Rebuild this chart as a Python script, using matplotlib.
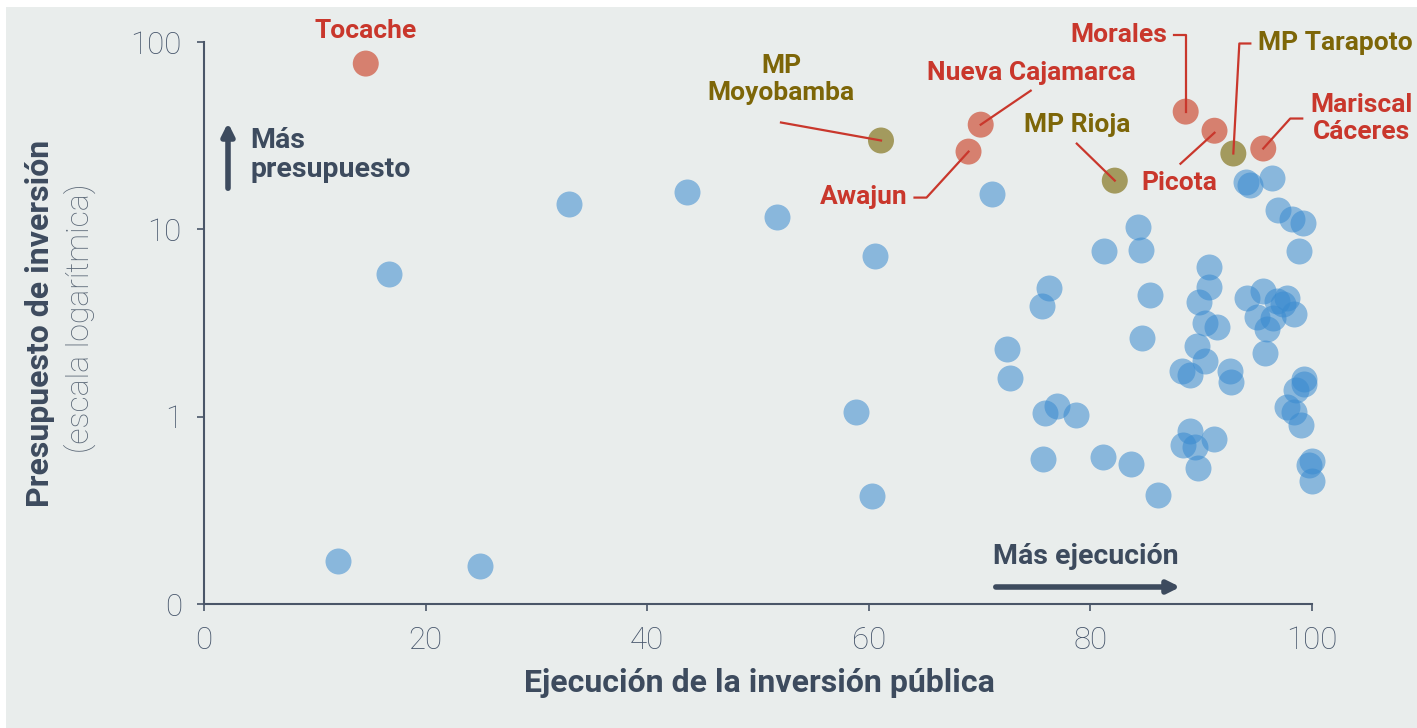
import numpy as np
import matplotlib
matplotlib.use("Agg")
import matplotlib.pyplot as plt
from matplotlib.lines import Line2D
from matplotlib.patches import Rectangle
from matplotlib.transforms import IdentityTransform

plt.rcParams["font.family"] = ["Roboto", "DejaVu Sans"]

# municipios resaltados
hl_names = ["Tocache", "MP\nMoyobamba", "Awajun", "Nueva Cajamarca", "MP Rioja",
            "Morales", "Picota", "MP Tarapoto", "Mariscal\nCáceres"]
hl_ejec = [14.6, 61.1, 69.0, 70.1, 82.2, 88.6, 91.2, 92.9, 95.6]
hl_presu = [76.7, 29.8, 26.0, 36.2, 18.2, 42.5, 33.6, 25.4, 27.0]
hl_group = ["dist", "prov", "dist", "dist", "prov", "dist", "dist", "prov", "dist"]

# resto de municipios
ejec = [16.7, 12.1, 24.9, 32.9, 43.6, 51.7, 60.6, 58.8, 60.3, 71.1,
        94.0, 94.4, 96.4, 96.9, 98.2, 99.2, 98.8, 84.3, 81.2, 84.6,
        90.7, 90.7, 89.8, 90.3, 91.4, 76.3, 75.6, 85.4, 94.1, 95.6,
        97.7, 96.8, 97.4, 98.4, 95.0, 96.5, 95.9, 95.8, 84.7, 72.5,
        72.7, 89.6, 90.3, 88.3, 89.0, 92.6, 92.7, 99.3, 99.3, 98.6,
        97.7, 98.4, 99.0, 75.9, 77.0, 78.7, 89.0, 88.4, 89.4, 91.2,
        89.7, 100.0, 99.7, 100.0, 75.7, 81.1, 83.7, 86.1]
presu = [5.80, 0.170, 0.160, 13.7, 15.9, 11.7, 7.24, 1.06, 0.379, 15.5,
         18.0, 17.3, 18.9, 12.7, 11.4, 10.8, 7.70, 10.3, 7.70, 7.79,
         6.33, 4.94, 4.11, 3.18, 3.02, 4.88, 3.92, 4.48, 4.32, 4.70,
         4.32, 4.16, 4.01, 3.55, 3.42, 3.38, 2.95, 2.20, 2.64, 2.31,
         1.60, 2.39, 1.99, 1.76, 1.66, 1.76, 1.54, 1.58, 1.50, 1.39,
         1.13, 1.06, 0.906, 1.04, 1.14, 1.02, 0.842, 0.709, 0.692, 0.763,
         0.534, 0.582, 0.554, 0.455, 0.597, 0.612, 0.561, 0.383]

x_ticks = [0, 20, 40, 60, 80, 100]
y_ticks = [0.1, 1, 10, 100]
y_ticklabels = ["0", "1", "10", "100"]

DARK = "#3d4b5e"
BG = "#e9edec"
dot_col = {"dist": "#d6806f", "prov": "#a39a5e"}
txt_col = {"dist": "#c9372c", "prov": "#7d6608"}

# offsets in pixels (x right, y up): text position and leader line path
label_pos = {
    "Tocache": ((0, 33), "center", None),
    "MP\nMoyobamba": ((-100, 61), "center", [(0, 0), (-100, 18)]),
    "Awajun": ((-61, -45), "right", [(0, 0), (-42, -46), (-54, -46)]),
    "Nueva Cajamarca": ((51, 52), "center", [(0, 0), (50, 34)]),
    "MP Rioja": ((-38, 56), "center", [(0, 0), (-38, 37)]),
    "Morales": ((-18, 77), "right", [(0, 0), (0, 77), (-12, 77)]),
    "Picota": ((-35, -52), "center", [(0, -2), (-34, -33)]),
    "MP Tarapoto": ((25, 110), "left", [(0, 0), (6, 110), (17, 110)]),
    "Mariscal\nCáceres": ((98, 30), "center", [(0, 0), (27, 30), (39, 30)]),
}

W, H = 1417, 728
fig = plt.figure(figsize=(W / 100, H / 100), dpi=100, facecolor="white")
fig.add_artist(Rectangle((6 / W, 0), 1, 1 - 7 / H, transform=fig.transFigure,
                         facecolor=BG, edgecolor="none", zorder=-10))

ax = fig.add_axes([204 / W, 1 - 604 / H, 1108 / W, 562 / H])
ax.set_facecolor("none")
ax.set_yscale("log")
ax.set_xlim(0, 100)
ax.set_ylim(0.1, 100)

for s in ["top", "right"]:
    ax.spines[s].set_visible(False)
for s in ["left", "bottom"]:
    ax.spines[s].set_color("#4a5668")
    ax.spines[s].set_linewidth(1.5)

ax.set_xticks(x_ticks)
ax.set_xticklabels([str(t) for t in x_ticks])
ax.set_yticks(y_ticks)
ax.set_yticklabels(y_ticklabels)
ax.yaxis.set_minor_locator(matplotlib.ticker.NullLocator())
ax.tick_params(axis="both", length=5, width=1.2, color="#4a5668",
               labelcolor="#45546a", labelsize=22.5, pad=11)
for lab in ax.get_xticklabels() + ax.get_yticklabels():
    lab.set_fontweight("light")

ax.scatter(ejec, presu, s=350, color="#3a8bd0", alpha=0.55, linewidths=0,
           zorder=2, clip_on=False)
ax.scatter(hl_ejec, hl_presu, s=350, color=[dot_col[g] for g in hl_group],
           linewidths=0, zorder=3, clip_on=False)

for name, x, y, g in zip(hl_names, hl_ejec, hl_presu, hl_group):
    (dx, dy), ha, path = label_pos[name]
    ax.annotate(name, xy=(x, y), xytext=(dx, dy), textcoords="offset pixels",
                ha=ha, va="center", fontsize=19, fontweight="bold",
                color=txt_col[g], linespacing=1.2, annotation_clip=False)
    if path:
        px, py = ax.transData.transform((x, y))
        fig.add_artist(Line2D([px + a for a, b in path], [py + b for a, b in path],
                              transform=IdentityTransform(), color="#c9372c",
                              lw=1.6, zorder=5))

# flechas de guía
ax.annotate("", xy=(228, H - 120), xytext=(228, H - 191), xycoords="figure pixels",
            textcoords="figure pixels",
            arrowprops=dict(arrowstyle="-|>", color=DARK, lw=4, mutation_scale=18))
fig.text(250 / W, 1 - 155 / H, "Más\npresupuesto", ha="left", va="center",
         fontsize=20.5, fontweight="bold", color=DARK, linespacing=1.1)

ax.annotate("", xy=(1183, H - 587), xytext=(993, H - 587), xycoords="figure pixels",
            textcoords="figure pixels",
            arrowprops=dict(arrowstyle="-|>", color=DARK, lw=4, mutation_scale=18))
fig.text(993 / W, 1 - 557 / H, "Más ejecución", ha="left", va="center",
         fontsize=20.5, fontweight="bold", color=DARK)

fig.text(759 / W, 1 - 683 / H, "Ejecución de la inversión pública", ha="center",
         va="center", fontsize=23, fontweight="bold", color=DARK)
fig.text(40 / W, 1 - 323 / H, "Presupuesto de inversión", ha="center", va="center",
         rotation=90, fontsize=23, fontweight="bold", color=DARK)
fig.text(80 / W, 1 - 318 / H, "(escala logarítmica)", ha="center", va="center",
         rotation=90, fontsize=23, fontweight="light", color="#5b6877")

fig.savefig("out.png", dpi=100, facecolor=fig.get_facecolor())
